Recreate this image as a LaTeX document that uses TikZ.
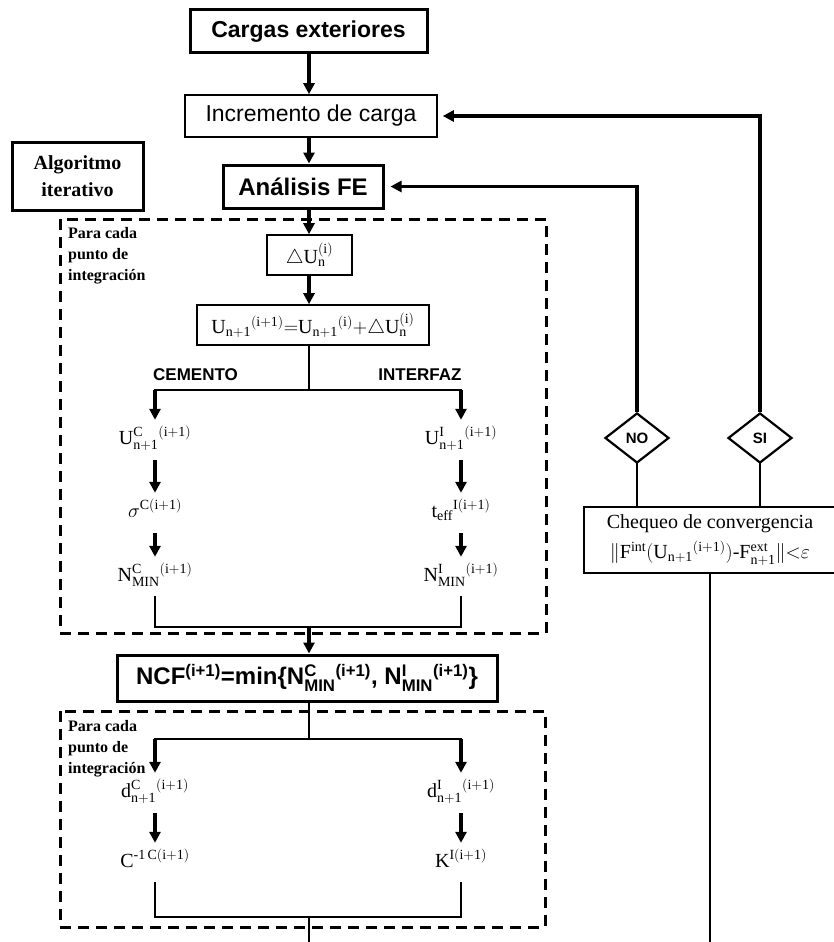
\RequirePackage{fix-cm}
\documentclass[tikz,border=0pt]{standalone}
\usepackage{amsmath}
\usepackage{fontspec}
\setmainfont{Liberation Serif}
\setsansfont{Liberation Sans}
\usepackage{tikz}
\usetikzlibrary{arrows.meta}
\usetikzlibrary{shapes.geometric}
\tikzset{box/.style = {draw, line width=1.6, inner sep=0}}
\tikzset{heavy/.style = {draw, line width=3, inner sep=0}}
\tikzset{flow/.style = {line width=3.2, -{Triangle[length=11pt, width=11pt]}}}
\tikzset{link/.style = {line width=2.4, line cap=rect}}
\tikzset{zone/.style = {line width=3, dash pattern=on 11pt off 7pt}}
\tikzset{lab/.style = {inner sep=0, text height=14, text depth=6, minimum height=40,
                       font=\fontsize{20}{24}\selectfont}}
\tikzset{para/.style = {anchor=north west, align=left, inner sep=0,
                        font=\fontsize{16}{21}\selectfont\bfseries}}
\tikzset{side/.style = {inner sep=0, font=\fontsize{17}{20}\selectfont\sffamily\bfseries}}
\tikzset{ask/.style = {draw, diamond, line width=2.2, minimum width=64, minimum height=50,
                       inner sep=0, font=\fontsize{15}{18}\selectfont\sffamily\bfseries}}
\newcommand{\hdsans}{\fontsize{23}{28}\selectfont\sffamily}

\begin{document}
\begin{tikzpicture}[x=1pt, y=-1pt]
      \useasboundingbox (0,0) rectangle (834,942);
      \coordinate (ax) at (309,0);

      \node [heavy, minimum width=237, minimum height=43, font=\hdsans\bfseries] (cargas) at (308.5,31.5) {Cargas exteriores};
      \node [box, minimum width=252, minimum height=42, font=\hdsans] (incr) at (311,116) {Incremento de carga};
      \node [heavy, minimum width=131, minimum height=68, align=center, font=\fontsize{20}{27}\selectfont\bfseries] (algo) at (77.5,176) {Algoritmo\\iterativo};
      \node [heavy, minimum width=160, minimum height=43, font=\fontsize{24}{28}\selectfont\sffamily\bfseries] (ana) at (303,186.5) {Análisis FE};

      \draw [zone] (60,219) rectangle (546,633);
      \node [para] (pc1) at (68,227) {Para cada\\punto de\\integración};
      \node [box, minimum width=85, minimum height=40, font=\fontsize{20}{24}\selectfont] (du) at (309.5,255) {$\triangle\mathrm{U_n^{(i)}}$};
      \node [box, minimum width=232, minimum height=40, font=\fontsize{20}{24}\selectfont] (ueq) at (313,325) {$\mathrm{U_{n+1}{}^{(i+1)}{=}U_{n+1}{}^{(i)}{+}\triangle U_n^{(i)}}$};

      \coordinate (b1) at (309,390);
      \node [side] (cem) at (195.5,375) {CEMENTO};
      \node [side] (int) at (420,375) {INTERFAZ};
      \node [lab] (uC) at (155,440) {$\mathrm{U^{C}_{n+1}{}^{(i+1)}}$};
      \node [lab] (uI) at (461,440) {$\mathrm{U^{I}_{n+1}{}^{(i+1)}}$};
      \node [lab] (sC) at (155,513) {$\sigma^{\mathrm{C(i+1)}}$};
      \node [lab] (tI) at (461,513) {$\mathrm{t_{eff}{}^{I(i+1)}}$};
      \node [lab] (nC) at (155,577) {$\mathrm{N^{C}_{MIN}{}^{(i+1)}}$};
      \node [lab] (nI) at (461,577) {$\mathrm{N^{I}_{MIN}{}^{(i+1)}}$};
      \coordinate (m1) at (309,627);

      \node [heavy, minimum width=380, minimum height=46, font=\fontsize{24}{28}\selectfont\sffamily\bfseries] (ncf) at (307,678)
            {NCF$^{\text{(i+1)}}$=min\{N$^{\text{C}}_{\text{MIN}}{}^{\text{(i+1)}}$, N$^{\text{I}}_{\text{MIN}}{}^{\text{(i+1)}}$\}};

      \draw [zone] (60,711) rectangle (545,927);
      \node [para] (pc2) at (68,720) {Para cada\\punto de\\integración};
      \coordinate (b2) at (309,739);
      \node [lab] (dC) at (155,793) {$\mathrm{d^{C}_{n+1}{}^{(i+1)}}$};
      \node [lab] (dI) at (461,793) {$\mathrm{d^{I}_{n+1}{}^{(i+1)}}$};
      \node [lab] (cinv) at (155,863) {$\mathrm{C^{\text{-}1\,C(i+1)}}$};
      \node [lab] (kI) at (461,863) {$\mathrm{K^{I(i+1)}}$};
      \coordinate (m2) at (309,917);
      \coordinate (end1) at (309,942);

      \node [ask] (no) at (637,438) {NO};
      \node [ask] (si) at (760,438) {SI};
      \node [box, minimum width=252, minimum height=66, align=center, font=\fontsize{20}{30}\selectfont] (conv) at (710,540)
            {Chequeo de convergencia\\$\|\mathrm{F^{int}(U_{n+1}{}^{(i+1)})\text{-}F^{ext}_{n+1}}\|{<}\varepsilon$};
      \coordinate (end2) at (710,942);

      \draw [flow] (ax |- cargas.south) -- (ax |- incr.north);
      \draw [flow] (ax |- incr.south) -- (ax |- ana.north);
      \draw [flow] (ax |- ana.south) -- (ax |- du.north);
      \draw [flow] (ax |- du.south) -- (ax |- ueq.north);
      \draw [link] (ax |- ueq.south) -- (b1);
      \draw [link] (uC.north |- b1) -- (uI.north |- b1);
      \draw [flow] (uC.north |- b1) -- (uC.north);
      \draw [flow] (uI.north |- b1) -- (uI.north);
      \draw [flow] (uC) -- (sC);
      \draw [flow] (uI) -- (tI);
      \draw [flow] (sC) -- (nC);
      \draw [flow] (tI) -- (nI);
      \draw [link] (nC.south) -- (nC.south |- m1) -- (nI.south |- m1) -- (nI.south);
      \draw [flow] (m1) -- (ax |- ncf.north);

      \draw [link] (ax |- ncf.south) -- (b2);
      \draw [link] (dC.north |- b2) -- (dI.north |- b2);
      \draw [flow] (dC.north |- b2) -- (dC.north);
      \draw [flow] (dI.north |- b2) -- (dI.north);
      \draw [flow] (dC) -- (cinv);
      \draw [flow] (dI) -- (kI);
      \draw [link] (cinv.south) -- (cinv.south |- m2) -- (kI.south |- m2) -- (kI.south);
      \draw [link] (m2) -- (end1);

      \draw [flow, shorten >=6pt] (no.north) |- (ana.east);
      \draw [flow, shorten >=5pt] (si.north) |- (incr.east);
      \draw [link] (no.south) -- (no.south |- conv.north);
      \draw [link] (si.south) -- (si.south |- conv.north);
      \draw [link] (conv.south) -- (end2);
\end{tikzpicture}
\end{document}
